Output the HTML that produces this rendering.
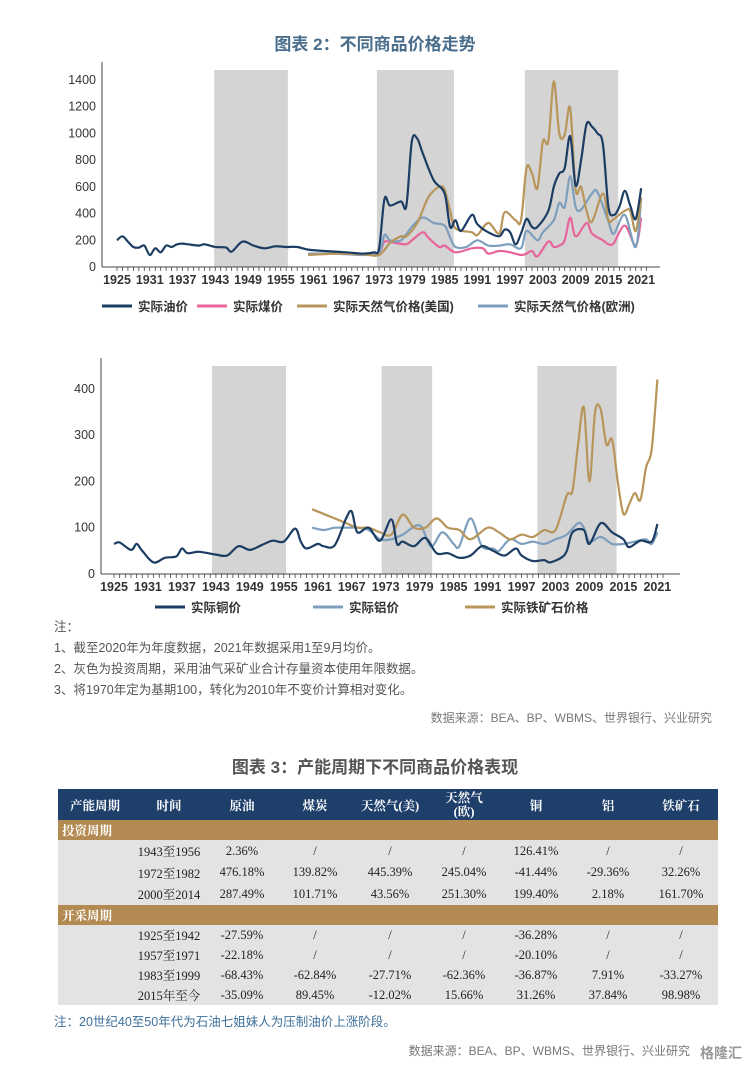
<!DOCTYPE html>
<html><head><meta charset="utf-8">
<style>
body{margin:0;width:750px;height:1072px;background:#fff;font-family:"Liberation Sans","Noto Sans CJK SC",sans-serif;position:relative;overflow:hidden;color:#555}
.abs{position:absolute}
.t{font-weight:bold;font-size:17px;text-align:center;width:750px;left:0}
table{border-collapse:collapse;font-family:"Liberation Serif","Noto Serif CJK SC",serif;font-size:12.5px;color:#222}
</style></head><body>
<div class="abs t" style="top:30px;color:#4a6d8c">图表 2：不同商品价格走势</div>
<svg class="abs" style="left:0;top:60px" width="750" height="560" id="svg"></svg>
<div class="abs" style="left:54px;top:617px;font-size:12.5px;line-height:21px;color:#555">注：<br>1、截至2020年为年度数据，2021年数据采用1至9月均价。<br>2、灰色为投资周期，采用油气采矿业合计存量资本使用年限数据。<br>3、将1970年定为基期100，转化为2010年不变价计算相对变化。</div>
<div class="abs" style="right:38px;top:709px;font-size:12px;color:#777">数据来源：BEA、BP、WBMS、世界银行、兴业研究</div>
<div class="abs t" style="top:753px;color:#555">图表 3：产能周期下不同商品价格表现</div>
<table class="abs" style="left:58px;top:789px;width:660px">
<colgroup><col style="width:74px"><col style="width:74px"><col style="width:72px"><col style="width:74px"><col style="width:76px"><col style="width:72px"><col style="width:72px"><col style="width:72px"><col style="width:74px"></colgroup>
<tr style="background:#1f3f6b;color:#fff;height:31px;font-weight:bold;text-align:center"><td>产能周期</td><td>时间</td><td>原油</td><td>煤炭</td><td>天然气(美)</td><td style="line-height:14px">天然气<br>(欧)</td><td>铜</td><td>铝</td><td>铁矿石</td></tr>
<tr style="background:#b38a52;color:#fff;height:18px;font-weight:bold"><td colspan="9" style="padding-left:4px">投资周期</td></tr>
<tbody style="background:#e3e3e3;text-align:center">
<tr style="height:22px"><td></td><td>1943至1956</td><td>2.36%</td><td>/</td><td>/</td><td>/</td><td>126.41%</td><td>/</td><td>/</td></tr>
<tr style="height:21px"><td></td><td>1972至1982</td><td>476.18%</td><td>139.82%</td><td>445.39%</td><td>245.04%</td><td>-41.44%</td><td>-29.36%</td><td>32.26%</td></tr>
<tr style="height:22px"><td></td><td>2000至2014</td><td>287.49%</td><td>101.71%</td><td>43.56%</td><td>251.30%</td><td>199.40%</td><td>2.18%</td><td>161.70%</td></tr>
</tbody>
<tr style="background:#b38a52;color:#fff;height:18px;font-weight:bold"><td colspan="9" style="padding-left:4px">开采周期</td></tr>
<tbody style="background:#e3e3e3;text-align:center">
<tr style="height:20px"><td></td><td>1925至1942</td><td>-27.59%</td><td>/</td><td>/</td><td>/</td><td>-36.28%</td><td>/</td><td>/</td></tr>
<tr style="height:20px"><td></td><td>1957至1971</td><td>-22.18%</td><td>/</td><td>/</td><td>/</td><td>-20.10%</td><td>/</td><td>/</td></tr>
<tr style="height:20px"><td></td><td>1983至1999</td><td>-68.43%</td><td>-62.84%</td><td>-27.71%</td><td>-62.36%</td><td>-36.87%</td><td>7.91%</td><td>-33.27%</td></tr>
<tr style="height:20px"><td></td><td>2015年至今</td><td>-35.09%</td><td>89.45%</td><td>-12.02%</td><td>15.66%</td><td>31.26%</td><td>37.84%</td><td>98.98%</td></tr>
</tbody></table>
<div class="abs" style="left:54px;top:1011px;font-size:12.5px;color:#3d6f9a">注：20世纪40至50年代为石油七姐妹人为压制油价上涨阶段。</div>
<div class="abs" style="right:60px;top:1042px;font-size:12px;color:#777">数据来源：BEA、BP、WBMS、世界银行、兴业研究</div>
<div class="abs" style="right:8px;top:1043px;font-size:14px;color:#999;font-weight:bold">格隆汇</div>
<script>
// chart 1 data
const oil=[[1925,200],[1926,230],[1927,190],[1928,150],[1929,145],[1930,160],[1931,90],[1932,140],[1933,110],[1934,160],[1935,150],[1936,170],[1937,175],[1938,170],[1940,160],[1941,170],[1943,150],[1945,145],[1946,115],[1948,190],[1950,160],[1952,140],[1954,155],[1956,150],[1958,150],[1960,130],[1963,120],[1967,110],[1970,100],[1972,110],[1973,140],[1974,510],[1975,460],[1977,490],[1978,460],[1979,940],[1980,960],[1981,850],[1983,650],[1985,550],[1986,300],[1987,350],[1988,270],[1990,390],[1991,320],[1993,260],[1995,230],[1996,280],[1997,260],[1998,170],[1999,250],[2000,360],[2001,300],[2002,300],[2004,420],[2005,600],[2006,700],[2007,740],[2008,980],[2009,610],[2010,800],[2011,1070],[2012,1050],[2013,1000],[2014,920],[2015,450],[2016,390],[2017,450],[2018,570],[2019,460],[2020,360],[2021,590]];
const coal=[[1970,100],[1973,110],[1974,190],[1976,180],[1978,170],[1979,200],[1981,260],[1982,220],[1984,150],[1985,160],[1987,110],[1990,140],[1992,140],[1993,100],[1995,120],[1997,110],[1999,90],[2000,100],[2001,120],[2002,80],[2004,190],[2005,150],[2006,160],[2007,200],[2008,370],[2009,230],[2011,330],[2012,250],[2014,200],[2015,170],[2016,180],[2018,310],[2020,160],[2021,370]];
const gasUS=[[1960,90],[1965,100],[1970,95],[1973,90],[1975,180],[1977,230],[1978,230],[1980,330],[1982,520],[1984,600],[1985,580],[1986,420],[1987,290],[1990,260],[1991,240],[1993,330],[1995,250],[1996,410],[1998,350],[1999,350],[2000,740],[2001,700],[2002,590],[2003,940],[2004,940],[2005,1390],[2006,1000],[2007,990],[2008,1190],[2009,580],[2010,600],[2011,420],[2012,340],[2014,550],[2015,350],[2016,360],[2018,420],[2019,420],[2020,270],[2021,520]];
const gasEU=[[1960,100],[1965,100],[1970,90],[1973,110],[1974,240],[1975,200],[1977,200],[1979,300],[1981,370],[1983,330],[1985,310],[1986,220],[1987,150],[1989,150],[1991,200],[1993,160],[1995,160],[1997,170],[1999,140],[2000,270],[2002,200],[2003,260],[2005,350],[2006,480],[2007,450],[2008,680],[2009,450],[2010,430],[2012,550],[2013,560],[2015,340],[2016,250],[2018,390],[2020,150],[2021,520]];
const bands1=[[1942.8,1956.3],[1972.6,1986.7],[1999.7,2016.8]];
const yTicks1=[0,200,400,600,800,1000,1200,1400];
// chart 2 data
const copper=[[1925,65],[1926,68],[1928,52],[1929,65],[1930,50],[1932,25],[1934,35],[1936,38],[1937,55],[1938,45],[1940,48],[1943,42],[1945,40],[1947,60],[1949,52],[1951,62],[1953,72],[1955,70],[1957,98],[1958,70],[1959,55],[1961,65],[1962,60],[1964,62],[1966,120],[1967,135],[1968,90],[1970,100],[1972,72],[1974,118],[1975,65],[1976,70],[1978,60],[1980,78],[1982,45],[1984,45],[1986,35],[1988,40],[1990,60],[1992,50],[1994,40],[1996,55],[1997,40],[1999,28],[2001,30],[2002,25],[2004,35],[2005,50],[2006,90],[2008,95],[2009,65],[2011,110],[2013,90],[2015,75],[2016,58],[2018,72],[2020,70],[2021,108]];
const alu=[[1960,100],[1962,95],[1964,100],[1966,100],[1968,100],[1970,95],[1972,75],[1974,75],[1976,85],[1979,105],[1981,60],[1983,90],[1985,65],[1986,60],[1988,120],[1990,60],[1992,55],[1993,50],[1995,75],[1997,65],[1999,70],[2001,65],[2003,75],[2005,85],[2007,110],[2008,100],[2009,70],[2011,80],[2013,65],[2015,65],[2017,70],[2019,75],[2020,65],[2021,90]];
const iron=[[1960,140],[1962,130],[1964,120],[1966,110],[1968,100],[1970,100],[1972,90],[1974,85],[1976,128],[1978,100],[1980,100],[1982,120],[1984,100],[1986,95],[1988,75],[1991,100],[1993,90],[1995,75],[1997,85],[1999,80],[2001,95],[2003,95],[2005,170],[2006,180],[2007,280],[2008,360],[2009,200],[2010,350],[2011,355],[2012,280],[2013,290],[2014,200],[2015,130],[2016,150],[2017,175],[2018,160],[2019,230],[2020,270],[2021,420]];
const bands2=[[1942.3,1955.4],[1972.3,1981.2],[1999.8,2013.8]];
const yTicks2=[0,100,200,300,400];
const xTickYears=[1925,1931,1937,1943,1949,1955,1961,1967,1973,1979,1985,1991,1997,2003,2009,2015,2021];

const svg=document.getElementById('svg');const NS='http://www.w3.org/2000/svg';
function mk(tag,attrs,txt){const e=document.createElementNS(NS,tag);for(const k in attrs)e.setAttribute(k,attrs[k]);if(txt!==undefined)e.textContent=txt;svg.appendChild(e);return e;}
function smooth(P){let d='M'+P[0][0].toFixed(1)+','+P[0][1].toFixed(1);
  for(let i=0;i<P.length-1;i++){const p0=P[i-1]||P[i],p1=P[i],p2=P[i+1],p3=P[i+2]||p2;
    const c1x=p1[0]+(p2[0]-p0[0])/6,c1y=p1[1]+(p2[1]-p0[1])/6,c2x=p2[0]-(p3[0]-p1[0])/6,c2y=p2[1]-(p3[1]-p1[1])/6;
    d+='C'+c1x.toFixed(1)+','+c1y.toFixed(1)+' '+c2x.toFixed(1)+','+c2y.toFixed(1)+' '+p2[0].toFixed(1)+','+p2[1].toFixed(1);}
  return d;}
function chart(cfg){
  const X=y=>cfg.x0+(y-1925)*cfg.dx, Y=v=>cfg.y0-v*cfg.dy;
  cfg.bands.forEach(b=>{const r=mk('rect',{x:X(b[0]),y:cfg.top,width:X(b[1])-X(b[0]),height:cfg.y0-cfg.top,fill:'#d4d4d4'});
    
    });
  mk('line',{x1:cfg.ax,y1:cfg.top-8,x2:cfg.ax,y2:cfg.y0,stroke:'#444','stroke-width':1});
  mk('line',{x1:cfg.ax,y1:cfg.y0,x2:cfg.right,y2:cfg.y0,stroke:'#444','stroke-width':1});
  for(let y=1925;y<=2022;y++)mk('line',{x1:X(y),y1:cfg.y0,x2:X(y),y2:cfg.y0+4,stroke:'#444','stroke-width':0.8});
  cfg.ticks.forEach(v=>{const t=mk('text',{x:cfg.ax-6,y:Y(v)+4,'text-anchor':'end','font-size':12.5,fill:'#333'},v);
    
    });
  xTickYears.forEach(y=>{const t=mk('text',{x:X(y),y:cfg.y0+17,'text-anchor':'middle','font-size':12.5,'font-weight':'bold',fill:'#333'},y);
    
    });
  cfg.series.forEach(s=>{const p=mk('path',{d:smooth(s.d.map(pt=>[X(pt[0]),Y(pt[1])])),fill:'none',stroke:s.c,'stroke-width':2.2,'stroke-linejoin':'round'});
    
    });
  cfg.legend.forEach(l=>{mk('line',{x1:l[0],y1:cfg.ly,x2:l[0]+30,y2:cfg.ly,stroke:l[2],'stroke-width':3});
    const t=mk('text',{x:l[0]+36,y:cfg.ly+5,'font-size':12.5,'font-weight':'bold',fill:'#333'},l[1]);
    
    });
}
chart({x0:117,dx:5.46,y0:207,dy:0.1336,top:10,ax:102,right:660,bands:bands1,ticks:yTicks1,ly:246,
 series:[{d:coal,c:'#e8649a',n:'coal-line'},{d:gasEU,c:'#7d9fbd',n:'gas-eu-line'},{d:gasUS,c:'#b8955a',n:'gas-us-line'},{d:oil,c:'#1c3d63',n:'oil-line'}],
 legend:[[102,'实际油价','#1c3d63'],[197,'实际煤价','#e8649a'],[297,'实际天然气价格(美国)','#b8955a'],[478,'实际天然气价格(欧洲)','#7d9fbd']]});
chart({x0:114,dx:5.66,y0:514,dy:0.463,top:306,ax:101,right:680,bands:bands2,ticks:yTicks2,ly:547,
 series:[{d:alu,c:'#7d9fbd',n:'aluminum-line'},{d:iron,c:'#b8955a',n:'iron-ore-line'},{d:copper,c:'#1c3d63',n:'copper-line'}],
 legend:[[155,'实际铜价','#1c3d63'],[313,'实际铝价','#7d9fbd'],[465,'实际铁矿石价格','#b8955a']]});
</script>
</body></html>
